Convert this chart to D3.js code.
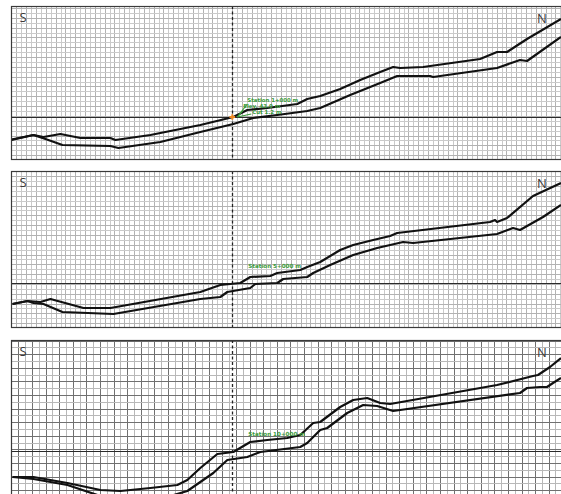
<!DOCTYPE html>
<html>
<head>
<meta charset="utf-8">
<script src="https://cdn.jsdelivr.net/npm/d3@7"></script>
<style>
  html, body { margin: 0; padding: 0; background: #fff; }
  svg { display: block; }
</style>
</head>
<body>
<svg id="chart" width="561" height="494"></svg>
<script>
// Cross-section profiles: [distance, elevation] pairs, south (left) to north (right)
const upper1 = [[0,20.5],[22,25],[32,23],[49,26],[69,22],[99,22],[104,20],[139,25],[189,35],[222,43],[236,50],[256,52],[286,56],[296,61],[309,64],[329,71],[349,80],[369,88],[382,93],[389,92],[412,93],[469,101],[486,108],[496,108],[516,121],[550,141]];
const lower1 = [[0,20],[22,25],[34,21],[51,15],[99,14],[107,12],[149,18],[189,28],[222,36],[242,42],[266,45],[296,49],[309,52],[339,65],[369,77],[386,84],[419,84],[422,83],[486,92],[509,100],[516,99],[550,123]];

const upper2 = [[1,24],[16,27],[29,26],[39,29],[72,20],[99,20],[189,36],[209,43],[229,45],[239,51],[259,52],[266,55],[289,58],[296,61],[309,66],[329,78],[342,83],[362,88],[379,92],[386,95],[479,106],[484,108],[486,106],[496,110],[522,132],[550,145]];
const lower2 = [[1,24],[16,27],[22,25],[32,24],[51,16],[102,14],[189,29],[209,31],[216,36],[239,40],[244,44],[266,45],[272,49],[296,51],[302,55],[319,63],[342,73],[366,80],[379,83],[392,86],[402,85],[486,94],[502,100],[509,98],[532,111],[550,123]];

const upper3 = [[1,20],[22,20],[56,14],[89,7],[109,6],[139,9],[166,12],[176,17],[189,29],[206,43],[222,45],[239,55],[256,57],[276,59],[289,62],[302,74],[309,75],[329,90],[342,97],[356,99],[369,94],[379,93],[486,112],[522,121],[527,122],[539,130],[550,139]];
const lower3 = [[1,20],[22,18],[56,12],[89,1],[119,-3],[149,-2],[176,6],[189,15],[202,24],[216,37],[236,40],[249,45],[289,50],[296,54],[309,67],[316,69],[336,84],[352,92],[366,91],[382,86],[509,104],[516,109],[529,110],[536,110],[542,114],[550,119]];

// Reference level and section station for each panel
const referenceLevels = [43, 45, 46];
const sectionStations = [221, 221, 221];
const stationLabels = [["Station 1+000 m", "Elev. 43.0 m", "Cut 1.2 m"], ["Station 5+000 m"], ["Station 10+000 m"]];
const endLabels = ["S", "N"];

// Panel layout (pixels)
const panels = [
  { top: 6,   bottom: 160, grid: 4.9, upper: upper1, lower: lower1 },
  { top: 171, bottom: 328, grid: 4.9, upper: upper2, lower: lower2 },
  { top: 340, bottom: 497, grid: 6.8, upper: upper3, lower: lower3 }
];
const left = 11.5, right = 561;

const svg = d3.select("#chart");

panels.forEach((p, i) => {
  const x = d3.scaleLinear().domain([0, 550]).range([left, right]);
  const y = d3.scaleLinear().domain([0, p.bottom - p.top]).range([p.bottom, p.top]);

  const g = svg.append("g");
  const clipId = "clip" + i;
  svg.append("clipPath").attr("id", clipId)
    .append("rect").attr("x", left).attr("y", p.top).attr("width", right - left).attr("height", p.bottom - p.top);

  const inner = g.append("g").attr("clip-path", `url(#${clipId})`);

  inner.append("rect")
    .attr("x", left).attr("y", p.top).attr("width", right - left).attr("height", p.bottom - p.top)
    .attr("fill", "#fff");

  // grid
  const xs = d3.range(left + p.grid, right, p.grid);
  const ys = d3.range(p.bottom - p.grid, p.top, -p.grid);
  const heavy = i === 2;
  const gridColor = (d, k) => heavy ? (k % 2 ? "#b8b8b8" : "#707070") : (k % 2 ? "#cacaca" : "#b2b2b2");
  inner.append("g").selectAll("line").data(xs).join("line")
    .attr("x1", d => Math.round(d) + 0.5).attr("x2", d => Math.round(d) + 0.5)
    .attr("y1", p.top).attr("y2", p.bottom)
    .attr("stroke", gridColor).attr("stroke-width", 1);
  inner.append("g").selectAll("line").data(ys).join("line")
    .attr("y1", d => Math.round(d) + 0.5).attr("y2", d => Math.round(d) + 0.5)
    .attr("x1", left).attr("x2", right)
    .attr("stroke", gridColor).attr("stroke-width", 1);

  // reference level
  inner.append("line")
    .attr("x1", left).attr("x2", right)
    .attr("y1", Math.round(y(referenceLevels[i])) + 0.5).attr("y2", Math.round(y(referenceLevels[i])) + 0.5)
    .attr("stroke", "#2a2a2a").attr("stroke-width", 1.2);

  // section station
  const sx = Math.round(x(sectionStations[i])) + 0.5;
  inner.append("line")
    .attr("x1", sx).attr("x2", sx).attr("y1", p.top).attr("y2", p.bottom)
    .attr("stroke", "#222").attr("stroke-width", 1.3).attr("stroke-dasharray", "3,2.5");

  // profiles
  const line = d3.line().x(d => x(d[0])).y(d => y(d[1]));
  [p.upper, p.lower].forEach(data => {
    inner.append("path").datum(data)
      .attr("d", line)
      .attr("fill", "none").attr("stroke", "#111").attr("stroke-width", 2.2)
      .attr("stroke-linejoin", "round");
  });

  // station labels
  const lbl = stationLabels[i];
  const green = "#3c9c3c";
  if (i === 0) {
    inner.append("path")
      .attr("d", `M${x(226)},${y(43)} L${x(236)},${y(56)} M${x(226)},${y(43)} L${x(232)},${y(50)} M${x(226)},${y(43)} L${x(240)},${y(46)}`)
      .attr("stroke", green).attr("stroke-width", 1.2).attr("fill", "none");
    const pos = [[236, 58], [232, 52], [241, 46.5]];
    lbl.forEach((t, k) => {
      inner.append("text").attr("x", x(pos[k][0])).attr("y", y(pos[k][1]))
        .attr("font-family", "DejaVu Sans, sans-serif").attr("font-size", 5.4).attr("font-weight", "bold")
        .attr("fill", green).text(t);
    });
    inner.append("path")
      .attr("d", d3.symbol(d3.symbolCross, 18)())
      .attr("transform", `translate(${x(sectionStations[i])},${y(referenceLevels[i])})`)
      .attr("fill", "#f08a24");
  } else {
    const yy = i === 1 ? 60 : 61;
    inner.append("text").attr("x", x(237)).attr("y", y(yy))
      .attr("font-family", "DejaVu Sans, sans-serif").attr("font-size", 5.6).attr("font-weight", "bold")
      .attr("fill", green).text(lbl[0]);
  }

  // S / N
  inner.append("text").attr("x", left + 8).attr("y", p.top + 16)
    .attr("font-family", "Open Sans, sans-serif").attr("font-size", 13)
    .attr("fill", "#3a3a3a").text(endLabels[0]);
  inner.append("text").attr("x", right - 24).attr("y", p.top + 17)
    .attr("font-family", "Open Sans, sans-serif").attr("font-size", 13)
    .attr("fill", "#3a3a3a").text(endLabels[1]);

  // frame
  g.append("rect")
    .attr("x", left).attr("y", p.top + 0.5).attr("width", right - left + 2).attr("height", p.bottom - p.top - 1)
    .attr("fill", "none").attr("stroke", "#3a3a3a").attr("stroke-width", 1.2);
});
</script>
</body>
</html>
